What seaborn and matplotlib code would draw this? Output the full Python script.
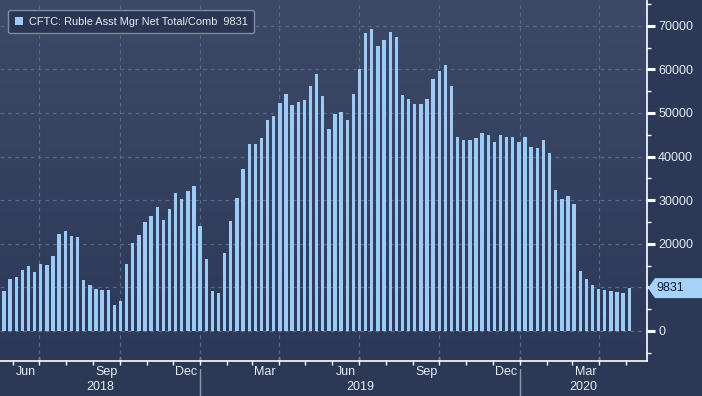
import numpy as np
import pandas as pd
import matplotlib
matplotlib.use("Agg")
import matplotlib.pyplot as plt
import seaborn as sns
from matplotlib.colors import LinearSegmentedColormap
from matplotlib.patches import Polygon
from matplotlib.transforms import IdentityTransform, blended_transform_factory
from matplotlib.ticker import FixedLocator, MultipleLocator

# ---------------- data ----------------
series_label = "CFTC: Ruble Asst Mgr Net Total/Comb  9831"
start_date = "2018-05-22"
values = [
    9200, 11900, 12400, 14000, 14900, 13500, 15400, 15100, 17200, 22200,
    22900, 21800, 21500, 11700, 10500, 9700, 9500, 9500, 6000, 6900,
    15400, 20200, 22000, 25000, 26400, 28400, 25500, 28000, 31600, 30300,
    32100, 33300, 24100, 16500, 9200, 8700, 17900, 25200, 30500, 37200,
    42900, 42900, 44300, 48400, 49300, 52300, 54400, 51800, 52500, 53000,
    56200, 58900, 53900, 46300, 49800, 50200, 48400, 54400, 60100, 68300,
    69300, 65400, 66700, 68600, 67400, 54100, 53200, 52100, 52100, 53200,
    57800, 59600, 61000, 56200, 44500, 43800, 43800, 44300, 45400, 45000,
    43300, 45000, 44500, 44500, 43300, 44500, 42200, 42000, 43800, 40800,
    32300, 30300, 31000, 29100, 13800, 11900, 10500, 9600, 9400, 9200,
    8900, 8700, 9831,
]
last_value_label = "9831"
y_ticks = [0, 10000, 20000, 30000, 40000, 50000, 60000, 70000]
y_tick_labels = ["0", "", "20000", "30000", "40000", "50000", "60000", "70000"]
month_labels = ["Jun", "Sep", "Dec", "Mar", "Jun", "Sep", "Dec", "Mar"]
month_label_dates = ["2018-06-16", "2018-09-16", "2018-12-16", "2019-03-16",
                     "2019-06-16", "2019-09-16", "2019-12-16", "2020-03-16"]
years = ["2018", "2019", "2020"]

# ---------------- styling ----------------
BG_FIG = "#2c3956"
BAR = "#9ecbf5"
TXT = "#e6ecf3"
GRID = "#55698a"

dates = pd.date_range(start=start_date, periods=len(values), freq="7D")
t0 = dates[0]

def pos(d):
    return (pd.Timestamp(d) - t0).days / 7.0

df = pd.DataFrame({"x": [pos(d) for d in dates], "value": values})

sns.set_theme(style="dark")
plt.rcParams["font.family"] = ["Liberation Sans", "DejaVu Sans"]

W, H = 702, 396
fig = plt.figure(figsize=(W / 100, H / 100), dpi=100, facecolor=BG_FIG)
ax = fig.add_axes([0, (H - 361) / H, 647 / W, 361 / H])

# gradient background
cmap = LinearSegmentedColormap.from_list("bg", ["#2b3857", "#3c4967"])
ax.imshow(np.linspace(0, 1, 256).reshape(-1, 1), extent=[0, 1, 0, 1],
          transform=ax.transAxes, cmap=cmap, aspect="auto", origin="lower",
          zorder=0)

sns.barplot(data=df, x="x", y="value", native_scale=True, color=BAR,
            width=0.55, saturation=1, ax=ax, label=series_label, zorder=3,
            linewidth=0)

spacing = 6.13
ax.set_xlim(-4 / spacing, (647 - 4) / spacing)
ax.set_ylim(-6880, 75900)

# y axis on the right
ax.yaxis.tick_right()
ax.yaxis.set_major_locator(FixedLocator(y_ticks))
ax.yaxis.set_minor_locator(MultipleLocator(5000))
ax.set_yticklabels(y_tick_labels)
ax.tick_params(axis="y", which="major", direction="out", length=6, width=2.2,
               colors="white", labelcolor=TXT, labelsize=9, pad=2, right=True,
               left=False)
ax.tick_params(axis="y", which="minor", direction="out", length=3, width=1,
               colors="white", right=True, left=False)
ax.set_ylabel("")
ax.set_xlabel("")

# x axis: monthly minor ticks, quarterly major ticks
month_starts = pd.date_range("2018-06-01", "2020-05-01", freq="MS")
quarter_starts = [d for d in month_starts if d.month in (1, 4, 7, 10)]
ax.xaxis.set_major_locator(FixedLocator([pos(d) for d in quarter_starts]))
ax.xaxis.set_minor_locator(FixedLocator([pos(d) for d in month_starts]))
ax.set_xticklabels([])
ax.tick_params(axis="x", which="major", direction="inout", length=6, width=1,
               colors="white", bottom=True)
ax.tick_params(axis="x", which="minor", direction="out", length=3, width=1,
               colors="white", bottom=True)

# grid
ax.grid(False)
for v in y_ticks:
    ax.axhline(v, color=GRID, lw=0.9, ls=(0, (3, 3)), zorder=1)
for d in quarter_starts:
    ax.axvline(pos(d), color=GRID, lw=0.9, ls=(0, (3, 3)), zorder=1)

for side in ["top", "left"]:
    ax.spines[side].set_visible(False)
for side in ["right", "bottom"]:
    ax.spines[side].set_visible(True)
    ax.spines[side].set_color("white")
    ax.spines[side].set_linewidth(1.2)

# month and year labels
trans_fig_y = blended_transform_factory(ax.transData, fig.transFigure)
for lab, d in zip(month_labels, month_label_dates):
    ax.text(pos(d), (H - 372) / H, lab, transform=trans_fig_y, ha="center",
            va="center", color=TXT, fontsize=9, clip_on=False)

x_left = ax.get_xlim()[0]
x_right = ax.get_xlim()[1]
jan19, jan20 = pos("2019-01-01"), pos("2020-01-01")
year_centers = [(x_left + jan19) / 2, (jan19 + jan20) / 2, (jan20 + x_right) / 2]
for yr, xc in zip(years, year_centers):
    ax.text(xc, (H - 387) / H, yr, transform=trans_fig_y, ha="center",
            va="center", color=TXT, fontsize=9, clip_on=False)
for xs in (jan19, jan20):
    ax.plot([xs, xs], [(H - 369) / H, 0], transform=trans_fig_y,
            color="#8a96aa", lw=1, clip_on=False)

# legend
leg = ax.legend(loc="upper left", bbox_to_anchor=(8 / 647, 1 - 10 / 361),
                borderaxespad=0, frameon=True, fontsize=7.9,
                handlelength=0.8, handleheight=0.8, handletextpad=0.5,
                borderpad=0.6, fancybox=True)
leg.get_frame().set_facecolor("#2b3752")
leg.get_frame().set_edgecolor("#7f8ba0")
leg.get_frame().set_alpha(1)
leg.get_frame().set_linewidth(1)
for t in leg.get_texts():
    t.set_color(TXT)

# last value tag
fig.canvas.draw()
ypx = ax.transData.transform((0, values[-1]))[1]
xpx = ax.transData.transform((x_right, 0))[0]
tag = Polygon([(xpx + 1, ypx), (xpx + 8, ypx + 10), (W, ypx + 10),
               (W, ypx - 10), (xpx + 8, ypx - 10)], closed=True,
              facecolor="#a6d2f7", edgecolor="none",
              transform=IdentityTransform())
fig.add_artist(tag)
fig.text((xpx + 9) / W, ypx / H, last_value_label, ha="left", va="center",
         color="#0c1a30", fontsize=9)

fig.savefig("out.png", dpi=100, facecolor=BG_FIG)
